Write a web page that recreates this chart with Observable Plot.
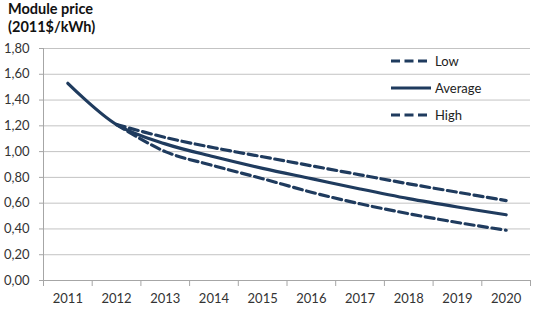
<!DOCTYPE html>
<html>
<head>
<meta charset="utf-8">
<script src="https://cdn.jsdelivr.net/npm/d3@7"></script>
<script src="https://cdn.jsdelivr.net/npm/@observablehq/plot@0.6"></script>
<style>
  body { margin: 0; background: #fff; font-family: Lato, "Open Sans", sans-serif; }
  #wrap { position: relative; width: 534px; height: 332px; overflow: hidden; }
  #title { position: absolute; left: 8px; top: 0; height: 38px; font-weight: bold; font-size: 14.5px; line-height: 17.5px; color: #111; }
  #chart { position: absolute; left: 0; top: 38px; }
  #legend { position: absolute; left: 391px; top: 48px; font-size: 13px; color: #222; }
  .item { display: flex; align-items: center; height: 26.7px; }
  .item svg { display: block; margin-right: 4px; }
</style>
</head>
<body>
<div id="wrap">
  <div id="title">Module price<br>(2011$/kWh)</div>
  <div id="chart"></div>
  <div id="legend"></div>
</div>
<script>
// Years on the horizontal axis
const years = [2011, 2012, 2013, 2014, 2015, 2016, 2017, 2018, 2019, 2020];
// Module price scenarios (2011$/kWh)
const average = [1.53, 1.21, 1.06, 0.96, 0.87, 0.79, 0.71, 0.635, 0.57, 0.51];
const low     = [null, 1.21, 1.11, 1.03, 0.96, 0.89, 0.82, 0.75, 0.685, 0.62];
const high    = [null, 1.21, 1.00, 0.89, 0.79, 0.685, 0.595, 0.518, 0.45, 0.39];
// Value axis ticks
const yTicks = [0, 0.2, 0.4, 0.6, 0.8, 1.0, 1.2, 1.4, 1.6, 1.8];

const seriesNames = ["Low", "Average", "High"];
const seriesValues = [low, average, high];
const dashed = {Low: true, Average: false, High: true};

const rows = seriesNames.flatMap((name, i) =>
  years.map((year, j) => ({series: name, year, value: seriesValues[i][j]}))
       .filter(d => d.value != null)
);

const lineColor = "#1f3b5e";
const gridColor = "#c3c3c3";
const axisColor = "#a6a6a6";

const chart = Plot.plot({
  width: 534,
  height: 294,
  marginLeft: 43,
  marginRight: 4,
  marginTop: 10,
  marginBottom: 52,
  style: {fontFamily: "Lato, 'Open Sans', sans-serif", fontSize: "13px", color: "#333", background: "#fff"},
  x: {domain: [years[0] - 0.5, years[years.length - 1] + 0.5], label: null},
  y: {domain: [0, 1.8], label: null},
  marks: [
    Plot.gridY(yTicks, {stroke: gridColor, strokeOpacity: 1}),
    Plot.axisY(yTicks, {tickSize: 4, tickPadding: 10, stroke: axisColor, fill: "#333",
      tickFormat: d => d.toFixed(2).replace(".", ",")}),
    Plot.axisX(years, {tickSize: 0, tickPadding: 13, fill: "#333", tickFormat: d => String(d)}),
    Plot.axisX(d3.range(years[0] - 0.5, years[years.length - 1] + 1, 1), {tickSize: 6, stroke: axisColor, tickFormat: () => ""}),
    Plot.ruleX([years[0] - 0.5], {stroke: axisColor}),
    Plot.ruleY([0], {stroke: axisColor}),
    ...seriesNames.map(name =>
      Plot.line(rows.filter(d => d.series === name), {
        x: "year", y: "value", stroke: lineColor, strokeWidth: 3.2,
        strokeDasharray: dashed[name] ? "9,4.5" : null,
        curve: "catmull-rom"
      })
    )
  ]
});
document.getElementById("chart").appendChild(chart);

// Legend with line samples
const legend = d3.select("#legend");
seriesNames.forEach(name => {
  const item = legend.append("div").attr("class", "item");
  const svg = item.append("svg").attr("width", 40).attr("height", 6);
  svg.append("line").attr("x1", 0).attr("x2", 40).attr("y1", 3).attr("y2", 3)
    .attr("stroke", lineColor).attr("stroke-width", 3.2)
    .attr("stroke-dasharray", dashed[name] ? "9,4.5" : null);
  item.append("span").text(name);
});
</script>
</body>
</html>
